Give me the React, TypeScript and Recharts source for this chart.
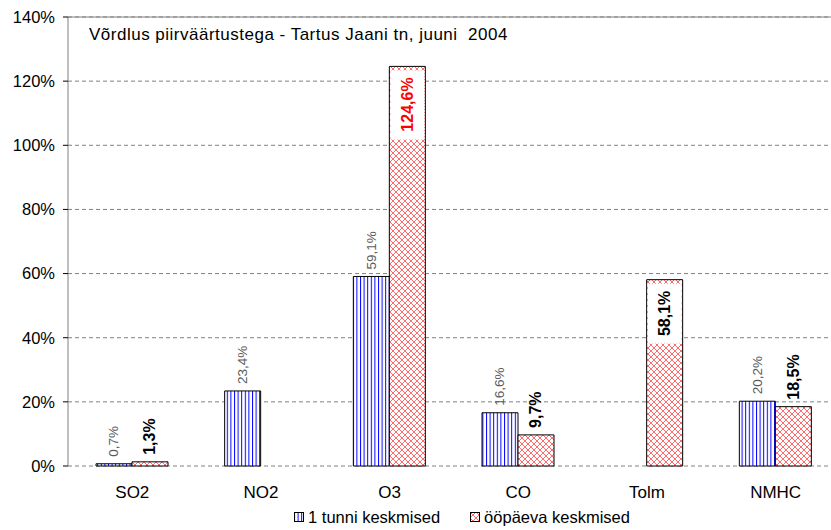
import React from "react";
import { Bar, BarChart, CartesianGrid, LabelList, Legend, ReferenceLine, XAxis, YAxis } from "recharts";

const categories = ["SO2", "NO2", "O3", "CO", "Tolm", "NMHC"];
const hourlyValues = [0.7, 23.4, 59.1, 16.6, null, 20.2];
const dailyValues = [1.3, null, 124.6, 9.7, 58.1, 18.5];
const yTicks = [0, 20, 40, 60, 80, 100, 120, 140];
const boundaryTicks = [0, 1, 2, 3, 4, 5, 6];

const FONT = '"Liberation Sans", Arial, sans-serif';
const HOURLY_NAME = "1 tunni keskmised";
const DAILY_NAME = "ööpäeva keskmised";
const TITLE = "Võrdlus piirväärtustega - Tartus Jaani tn, juuni  2004";

const data = categories.map((name, i) => ({ name, hourly: hourlyValues[i], daily: dailyValues[i] }));

const fmt = (v: number) => `${v.toFixed(1).replace(".", ",")}%`;

function HourlyLabel(props: any) {
  const { x, y, width, value } = props;
  if (value == null) return null;
  const cx = x + width / 2;
  const ty = y - 7;
  return (
    <text
      x={cx}
      y={ty}
      transform={`rotate(-90 ${cx} ${ty})`}
      textAnchor="start"
      dominantBaseline="central"
      fill="#5a5a5a"
      fontSize={13.5}
      fontFamily={FONT}
    >
      {fmt(value)}
    </text>
  );
}

function DailyLabel(props: any) {
  const { x, y, width, value } = props;
  if (value == null) return null;
  const cx = x + width / 2;
  const name = categories[dailyValues.indexOf(value)];
  const inside = name === "O3" || name === "Tolm";
  if (!inside) {
    const ty = y - 7;
    return (
      <text
        x={cx}
        y={ty}
        transform={`rotate(-90 ${cx} ${ty})`}
        textAnchor="start"
        dominantBaseline="central"
        fill="#000"
        fontSize={16}
        fontWeight="bold"
        fontFamily={FONT}
      >
        {fmt(value)}
      </text>
    );
  }
  // labels that sit inside the top of the tall bars, on a white box
  const label = fmt(value);
  const ty = y + 11;
  const textLen = label.length * 9.2;
  return (
    <g>
      <rect x={x + 1} y={y + 4} width={width - 2} height={textLen + 14} fill="#fff" />
      <text
        x={cx}
        y={ty}
        transform={`rotate(-90 ${cx} ${ty})`}
        textAnchor="end"
        dominantBaseline="central"
        fill={name === "O3" ? "#ff0000" : "#000"}
        fontSize={16}
        fontWeight="bold"
        fontFamily={FONT}
      >
        {label}
      </text>
    </g>
  );
}

function LegendContent() {
  const item = (pattern: string, text: string) => (
    <div style={{ display: "flex", alignItems: "center", gap: 4 }}>
      <svg width={10} height={10}>
        <rect x={0.5} y={0.5} width={9} height={9} fill={`url(#${pattern})`} stroke="#000" />
      </svg>
      <span>{text}</span>
    </div>
  );
  return (
    <div
      style={{
        display: "flex",
        justifyContent: "center",
        gap: 30,
        height: 26,
        alignItems: "center",
        paddingLeft: 76,
        fontFamily: FONT,
        fontSize: 16.5,
        color: "#000",
      }}
    >
      {item("hourlyPat", HOURLY_NAME)}
      {item("dailyPat", DAILY_NAME)}
    </div>
  );
}

export default function App() {
  return (
    <div style={{ position: "absolute", left: 0, top: 0, width: 831, height: 530, background: "#fff" }}>
      <BarChart
        width={831}
        height={530}
        data={data}
        margin={{ top: 17, right: -9, left: 8, bottom: 0 }}
        barGap={0}
      >
        <defs>
          <pattern id="hourlyPat" patternUnits="userSpaceOnUse" width={3.6} height={4}>
            <rect width={3.6} height={4} fill="#fff" />
            <line x1={0.5} y1={0} x2={0.5} y2={4} stroke="#0000ff" strokeWidth={1} />
          </pattern>
          <pattern id="dailyPat" patternUnits="userSpaceOnUse" width={6} height={6}>
            <rect width={6} height={6} fill="#fff" />
            <path d="M0,0 L6,6 M6,0 L0,6" stroke="#ff6a6a" strokeWidth={1} />
          </pattern>
        </defs>
        <CartesianGrid vertical={false} stroke="#808080" strokeDasharray="4 3" />
        <ReferenceLine y={140} stroke="#808080" />
        <XAxis
          xAxisId="bounds"
          type="number"
          domain={[0, 6]}
          ticks={boundaryTicks}
          height={0}
          tick={false}
          tickSize={5}
          axisLine={{ stroke: "#808080" }}
          tickLine={{ stroke: "#000" }}
        />
        <XAxis
          dataKey="name"
          height={38}
          axisLine={false}
          tickLine={false}
          tickSize={0}
          tickMargin={20}
          tick={{ fontSize: 17, fill: "#000", fontFamily: FONT }}
          interval={0}
        />
        <YAxis
          domain={[0, 140]}
          ticks={yTicks}
          tickFormatter={(v: number) => `${v}%`}
          width={60}
          tickSize={5}
          tickMargin={8}
          axisLine={{ stroke: "#808080" }}
          tickLine={{ stroke: "#000" }}
          tick={{ fontSize: 16.5, fill: "#000", fontFamily: FONT }}
        />
        <Legend verticalAlign="bottom" height={26} content={<LegendContent />} />
        <Bar dataKey="hourly" name={HOURLY_NAME} barSize={36} fill="url(#hourlyPat)" stroke="#000" strokeWidth={1} isAnimationActive={false}>
          <LabelList dataKey="hourly" content={<HourlyLabel />} />
        </Bar>
        <Bar dataKey="daily" name={DAILY_NAME} barSize={36} fill="url(#dailyPat)" stroke="#000" strokeWidth={1} isAnimationActive={false}>
          <LabelList dataKey="daily" content={<DailyLabel />} />
        </Bar>
        <text x={89} y={40} fontFamily={FONT} fontSize={17} letterSpacing={0.5} fill="#000" style={{ whiteSpace: "pre" }}>
          {TITLE}
        </text>
      </BarChart>
    </div>
  );
}
